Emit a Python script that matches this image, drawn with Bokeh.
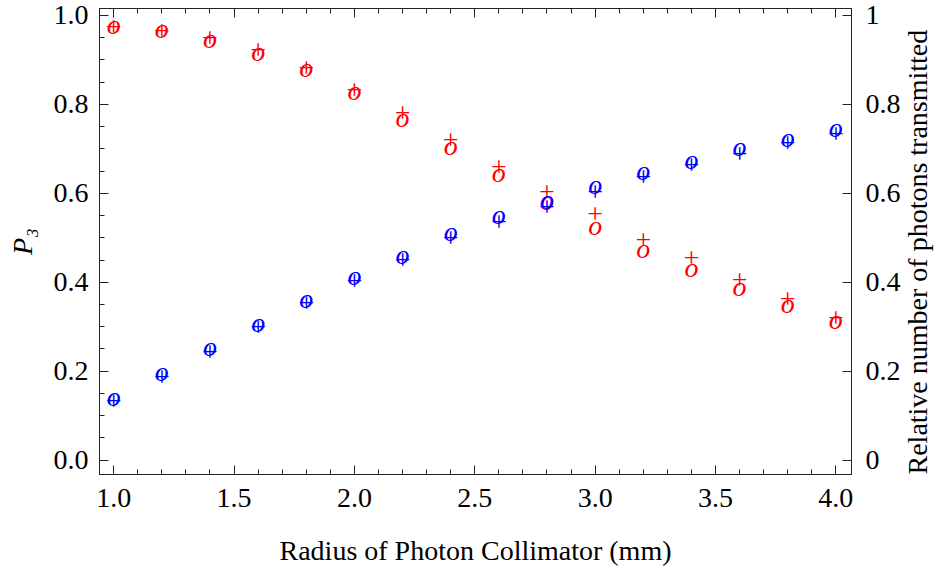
import math
from bokeh.plotting import figure
from bokeh.models import (Range1d, LinearAxis, SingleIntervalTicker, FixedTicker,
                          CustomJSTickFormatter, PrintfTickFormatter)
from bokeh.core.properties import value
from bokeh.embed import file_html
from bokeh.resources import INLINE

# ---- data ----
radius = [1.0, 1.2, 1.4, 1.6, 1.8, 2.0, 2.2, 2.4, 2.6, 2.8, 3.0, 3.2, 3.4, 3.6, 3.8, 4.0]
trans_plus = [0.975, 0.965, 0.950, 0.922, 0.882, 0.833, 0.780, 0.719, 0.660, 0.602,
              0.554, 0.495, 0.454, 0.405, 0.362, 0.320]
trans_o = [0.975, 0.965, 0.943, 0.914, 0.877, 0.826, 0.766, 0.702, 0.642, 0.578,
           0.521, 0.471, 0.427, 0.385, 0.347, 0.311]
p3_o = [0.138, 0.193, 0.250, 0.305, 0.359, 0.410, 0.457, 0.508, 0.547, 0.581,
        0.615, 0.645, 0.671, 0.699, 0.721, 0.742]
p3_plus = [0.133, 0.186, 0.244, 0.300, 0.353, 0.403, 0.450, 0.499, 0.535, 0.570,
           0.603, 0.636, 0.663, 0.689, 0.713, 0.734]
right_ticks = [0, 0.2, 0.4, 0.6, 0.8, 1]

FONT = "Liberation Serif"
AX = "#222222"

p = figure(width=951, height=572, output_backend="svg", toolbar_location=None,
           x_range=Range1d(0.941, 4.065), y_range=Range1d(-0.0323, 1.0157),
           min_border_left=99, min_border_right=97, min_border_top=8, min_border_bottom=98)
p.extra_y_ranges = {"right": Range1d(-0.0323, 1.0157)}
p.grid.visible = False
p.outline_line_color = AX
p.background_fill_color = "white"
p.border_fill_color = "white"


def style(ax, minor=True):
    ax.axis_line_color = AX
    ax.major_tick_line_color = AX
    ax.minor_tick_line_color = AX if minor else None
    ax.major_tick_in = 9
    ax.major_tick_out = 0
    ax.minor_tick_in = 5
    ax.minor_tick_out = 0
    ax.major_label_text_font = FONT
    ax.major_label_text_font_size = "28px"
    ax.major_label_text_color = "black"
    ax.axis_label_text_font = FONT
    ax.axis_label_text_font_size = "28px"
    ax.axis_label_text_font_style = "normal"
    ax.axis_label_text_color = "black"


xa = p.xaxis[0]
xa.ticker = SingleIntervalTicker(interval=0.5, num_minor_ticks=5)
xa.formatter = PrintfTickFormatter(format="%.1f")
style(xa)
xa.major_label_standoff = 14
xa.axis_label = "Radius of Photon Collimator (mm)"
xa.axis_label_standoff = 25

ya = p.yaxis[0]
ya.ticker = SingleIntervalTicker(interval=0.2, num_minor_ticks=4)
ya.formatter = PrintfTickFormatter(format="%.1f")
style(ya)
ya.major_label_standoff = 11
ya.axis_label = "P\u2083"
ya.axis_label_text_font_style = "italic"
ya.axis_label_standoff = 13

top = LinearAxis(ticker=SingleIntervalTicker(interval=0.5, num_minor_ticks=5),
                 formatter=CustomJSTickFormatter(code="return '';"))
style(top)
top.major_label_text_font_size = "1px"
top.major_label_standoff = 0
p.add_layout(top, "above")

right = LinearAxis(y_range_name="right", ticker=FixedTicker(ticks=right_ticks),
                   formatter=CustomJSTickFormatter(code="return tick.toString();"))
style(right, minor=False)
right.major_label_standoff = 14
right.axis_label = "Relative number of photons transmitted"
right.axis_label_standoff = 14
right.axis_label_orientation = math.pi / 2
right.axis_label_align = "start"
p.add_layout(right, "right")

common = dict(text_font=value(FONT), text_font_size="28px", text_align="center",
              text_baseline="middle")
p.text(radius, trans_plus, text=value("+"), text_color="red", y_range_name="right", **common)
p.text(radius, trans_o, text=value("o"), text_color="red", text_font_style="italic",
       y_offset=-2.5, y_range_name="right", **common)
p.text(radius, p3_plus, text=value("+"), text_color="blue", **common)
p.text(radius, p3_o, text=value("o"), text_color="blue", text_font_style="italic",
       y_offset=-2.5, **common)

open("out.html", "w").write(file_html(p, INLINE))
